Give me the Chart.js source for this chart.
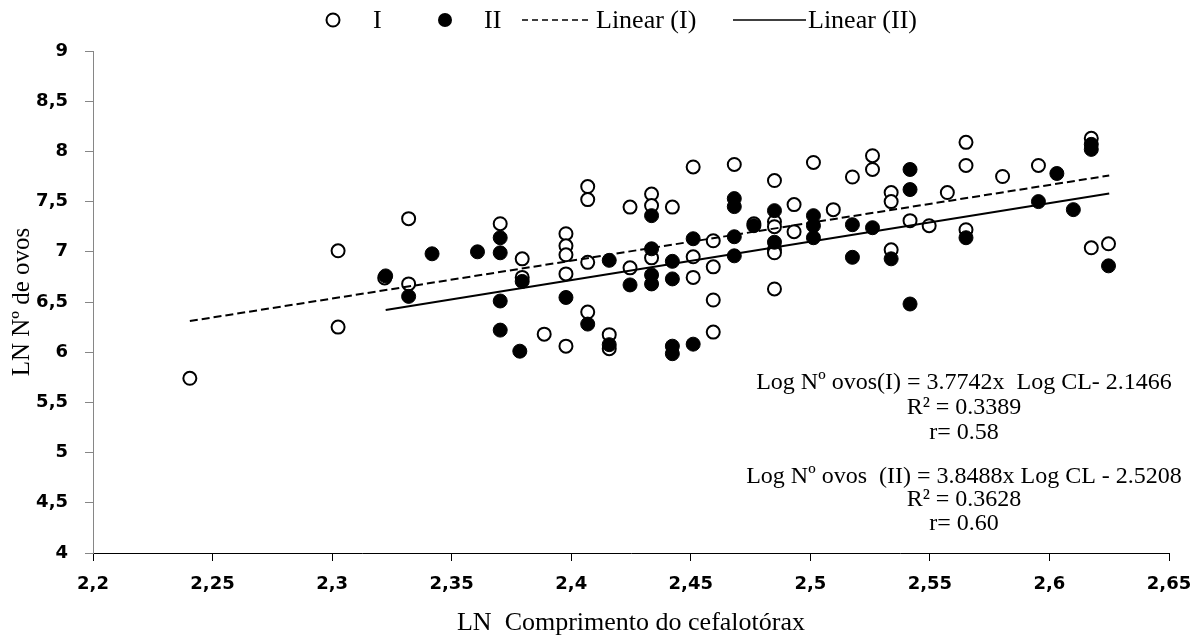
<!DOCTYPE html>
<html>
<head>
<meta charset="utf-8">
<script src="https://cdn.jsdelivr.net/npm/chart.js@4.4.1/dist/chart.umd.min.js"></script>
<style>
  html, body { margin: 0; padding: 0; background: #fff; }
  #caixa { width: 1203px; height: 639px; }
</style>
</head>
<body>
<div id="caixa"><canvas id="grafico"></canvas></div>
<script>
// grupo I (circulos abertos)
const comprimentoI = [2.2405, 2.3025, 2.3025, 2.322, 2.332, 2.332, 2.3703, 2.3795, 2.3795, 2.3887,
  2.3978, 2.3978, 2.3978, 2.3978, 2.3978, 2.4069, 2.4069, 2.4069, 2.4069, 2.4159,
  2.4159, 2.4246, 2.4246, 2.4336, 2.4336, 2.4336, 2.4423, 2.451, 2.451, 2.451,
  2.4594, 2.4594, 2.4594, 2.4594, 2.4682, 2.4764, 2.485, 2.485, 2.485, 2.485,
  2.485, 2.485, 2.4932, 2.4932, 2.5013, 2.5096, 2.5176, 2.526, 2.526, 2.5338,
  2.5338, 2.5338, 2.5417, 2.5497, 2.5573, 2.5651, 2.5651, 2.5651, 2.5804, 2.5954,
  2.6175, 2.6175, 2.6247];
const ovosI = [5.74, 7.01, 6.25, 6.74, 7.33, 6.68, 7.28, 6.93, 6.745, 6.18,
  7.18, 7.06, 6.97, 6.78, 6.06, 7.65, 7.52, 6.895, 6.40, 6.175,
  6.035, 7.445, 6.84, 7.575, 7.46, 6.94, 7.445, 7.845, 6.95, 6.745,
  7.11, 6.85, 6.52, 6.20, 7.87, 7.28, 7.71, 7.30, 7.25, 7.02,
  6.99, 6.63, 7.47, 7.20, 7.89, 7.42, 7.745, 7.957, 7.82, 7.59,
  7.50, 7.02, 7.31, 7.26, 7.59, 8.09, 7.86, 7.22, 7.75, 7.86,
  8.13, 7.04, 7.08];

// grupo II (circulos cheios)
const comprimentoII = [2.3224, 2.332, 2.3418, 2.3608, 2.3703, 2.3703, 2.3703, 2.3703, 2.3785, 2.3795,
  2.3978, 2.4069, 2.4159, 2.4159, 2.4246, 2.4336, 2.4336, 2.4336, 2.4336, 2.4423,
  2.4423, 2.4423, 2.4423, 2.451, 2.451, 2.4682, 2.4682, 2.4682, 2.4682, 2.4764,
  2.485, 2.485, 2.5013, 2.5013, 2.5013, 2.5176, 2.5176, 2.526, 2.5338, 2.5417,
  2.5417, 2.5417, 2.5651, 2.5954, 2.6031, 2.61, 2.6175, 2.6175, 2.6247];
const ovosII = [6.76, 6.556, 6.98, 7.0, 7.14, 6.99, 6.51, 6.22, 6.01, 6.705,
  6.545, 6.28, 6.915, 6.075, 6.67, 7.36, 7.03, 6.77, 6.68, 6.905,
  6.73, 6.06, 5.985, 7.13, 6.08, 7.53, 7.45, 7.15, 6.96, 7.26,
  7.41, 7.095, 7.36, 7.26, 7.14, 7.27, 6.945, 7.24, 6.93, 7.82,
  7.62, 6.48, 7.14, 7.50, 7.78, 7.42, 8.07, 8.02, 6.86];

// linhas de tendencia (extremos)
const linhaIx = [2.2405, 2.625];
const linhaIy = [6.31, 7.76];
const linhaIIx = [2.3224, 2.625];
const linhaIIy = [6.42, 7.58];

const ticksX = [2.2, 2.25, 2.3, 2.35, 2.4, 2.45, 2.5, 2.55, 2.6, 2.65];
const ticksY = [4, 4.5, 5, 5.5, 6, 6.5, 7, 7.5, 8, 8.5, 9];

const legendas = ['I', 'II', 'Linear (I)', 'Linear (II)'];
const equacoes = [
  'Log Nº ovos(I) = 3.7742x  Log CL- 2.1466',
  'R² = 0.3389',
  'r= 0.58',
  'Log Nº ovos  (II) = 3.8488x Log CL - 2.5208',
  'R² = 0.3628',
  'r= 0.60'
];

const serifa = '"Liberation Serif", "Times New Roman", serif';
const fonteTicks = { family: '"DejaVu Sans", sans-serif', size: 18, weight: 'bold' };

function pares(xs, ys) {
  return xs.map((x, i) => ({ x: x, y: ys[i] }));
}

function virgula(v) {
  return String(Number(v.toFixed(2))).replace('.', ',');
}

const extras = {
  id: 'extras',
  afterDraw(chart) {
    const ctx = chart.ctx;
    ctx.save();
    ctx.fillStyle = '#000';
    ctx.strokeStyle = '#000';

    // equacoes
    ctx.font = '24px ' + serifa;
    ctx.textAlign = 'center';
    ctx.textBaseline = 'middle';
    const ys = [383, 408, 433, 477, 500, 524];
    equacoes.forEach((t, i) => ctx.fillText(t, 964, ys[i]));

    // legenda
    const ly = 20;
    ctx.font = '26px ' + serifa;
    ctx.textAlign = 'left';
    ctx.lineWidth = 2;
    ctx.beginPath();
    ctx.arc(333, ly, 6.5, 0, Math.PI * 2);
    ctx.fillStyle = '#fff';
    ctx.fill();
    ctx.stroke();
    ctx.fillStyle = '#000';
    ctx.fillText(legendas[0], 373, ly + 1);

    ctx.beginPath();
    ctx.arc(445, ly, 7, 0, Math.PI * 2);
    ctx.fill();
    ctx.fillText(legendas[1], 484, ly + 1);

    ctx.lineWidth = 1.5;
    ctx.setLineDash([6, 4]);
    ctx.beginPath();
    ctx.moveTo(522, ly);
    ctx.lineTo(592, ly);
    ctx.stroke();
    ctx.setLineDash([]);
    ctx.fillText(legendas[2], 596, ly + 1);

    ctx.beginPath();
    ctx.moveTo(733, ly);
    ctx.lineTo(806, ly);
    ctx.stroke();
    ctx.fillText(legendas[3], 808, ly + 1);

    ctx.restore();
  }
};

const grafico = new Chart(document.getElementById('grafico'), {
  type: 'scatter',
  data: {
    datasets: [
      {
        label: legendas[2],
        data: pares(linhaIx, linhaIy),
        showLine: true,
        borderColor: '#000',
        borderWidth: 2,
        borderDash: [8, 4],
        pointRadius: 0,
        order: 1
      },
      {
        label: legendas[3],
        data: pares(linhaIIx, linhaIIy),
        showLine: true,
        borderColor: '#000',
        borderWidth: 2,
        pointRadius: 0,
        order: 1
      },
      {
        label: legendas[1],
        data: pares(comprimentoII, ovosII),
        backgroundColor: '#000',
        borderColor: '#000',
        borderWidth: 1,
        pointRadius: 7,
        order: 2
      },
      {
        label: legendas[0],
        data: pares(comprimentoI, ovosI),
        backgroundColor: '#fff',
        borderColor: '#000',
        borderWidth: 2,
        pointRadius: 6.5,
        order: 3
      }
    ]
  },
  options: {
    responsive: true,
    maintainAspectRatio: false,
    animation: false,
    events: [],
    layout: { padding: { left: 0, right: 34, top: 51, bottom: 0 } },
    plugins: {
      legend: { display: false },
      tooltip: { enabled: false }
    },
    scales: {
      x: {
        type: 'linear',
        position: 'bottom',
        min: 2.2,
        max: 2.65,
        afterBuildTicks: s => { s.ticks = ticksX.map(v => ({ value: v })); },
        afterFit: s => { s.height = 86; s.paddingLeft = 0; s.paddingRight = 0; },
        border: { color: '#000', width: 1 },
        grid: { drawOnChartArea: false, tickLength: 8, color: '#000' },
        ticks: { color: '#000', font: fonteTicks, padding: 13, maxRotation: 0, callback: virgula },
        title: {
          display: true,
          text: 'LN  Comprimento do cefalotórax',
          color: '#000',
          font: { family: serifa, size: 26 },
          padding: { top: 0, bottom: 0 }
        }
      },
      y: {
        type: 'linear',
        min: 4,
        max: 9,
        afterBuildTicks: s => { s.ticks = ticksY.map(v => ({ value: v })); },
        afterFit: s => { s.width = 93; s.paddingTop = 0; s.paddingBottom = 0; },
        border: { color: '#868686', width: 1 },
        grid: { drawOnChartArea: false, tickLength: 8, color: '#868686' },
        ticks: { color: '#000', font: fonteTicks, padding: 17, callback: virgula },
        title: {
          display: true,
          text: 'LN Nº de ovos',
          color: '#000',
          font: { family: serifa, size: 25 },
          padding: { top: 7, bottom: 0 }
        }
      }
    }
  },
  plugins: [extras]
});
</script>
</body>
</html>
